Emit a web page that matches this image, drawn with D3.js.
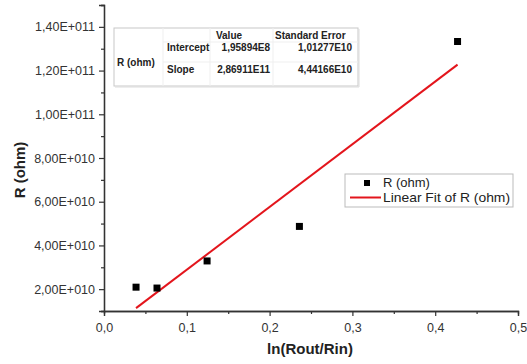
<!DOCTYPE html>
<html>
<head>
<meta charset="utf-8">
<script src="https://cdn.jsdelivr.net/npm/d3@7"></script>
<style>
  body { margin: 0; background: #fff; }
  text { font-family: Arial, "Liberation Sans", sans-serif; }
</style>
</head>
<body>
<svg id="chart"></svg>
<script>
// data
const xValues = [0.0387, 0.064, 0.1245, 0.236, 0.427];
const yValues = [2.09e10, 2.05e10, 3.29e10, 4.87e10, 1.333e11];
const fitIntercept = 1.95894e8;
const fitSlope = 2.86911e11;
const xTicks = [0, 0.1, 0.2, 0.3, 0.4, 0.5];
const yTicks = [2e10, 4e10, 6e10, 8e10, 1e11, 1.2e11, 1.4e11];
const tableHeader = ['', '', 'Value', 'Standard Error'];
const tableRows = [
  ['R (ohm)', 'Intercept', '1,95894E8', '1,01277E10'],
  ['', 'Slope', '2,86911E11', '4,44166E10']
];
const legendLabels = ['R (ohm)', 'Linear Fit of R (ohm)'];

const width = 527, height = 364;
const svg = d3.select('#chart').attr('width', width).attr('height', height);

const x = d3.scaleLinear().domain([0, 0.5]).range([104, 518]);
const y = d3.scaleLinear().domain([1e10, 1.5e11]).range([311, 5]);

const fmtY = d => d3.format('.2e')(d).replace('.', ',').replace(/e\+(\d+)/, (m, p) => 'E+' + p.padStart(3, '0'));
const fmtX = d => d3.format('.1f')(d).replace('.', ',');

// axes
const xAxis = svg.append('g').attr('transform', `translate(0,${y.range()[0]})`);
xAxis.call(d3.axisBottom(x).tickValues(d3.range(0.05, 0.5, 0.1)).tickSize(3).tickFormat(''));
xAxis.call(g => g.append('g').call(d3.axisBottom(x).tickValues(xTicks).tickSize(5).tickFormat(fmtX)));

const yAxis = svg.append('g').attr('transform', `translate(${x.range()[0]},0)`);
yAxis.call(d3.axisLeft(y).tickValues(d3.range(1e10, 1.51e11, 2e10)).tickSize(3).tickFormat(''));
yAxis.call(g => g.append('g').call(d3.axisLeft(y).tickValues(yTicks).tickSize(5).tickFormat(fmtY)));

svg.selectAll('.domain').attr('stroke', '#333').attr('stroke-width', 1.3);
svg.selectAll('.tick line').attr('stroke', '#333').attr('stroke-width', 1.2);
svg.selectAll('.tick text').attr('fill', '#333').style('font-size', '12.5px');
xAxis.selectAll('.tick text').attr('dy', '1.05em');
yAxis.selectAll('.tick text').attr('dx', '-1px');

// axis titles
svg.append('text')
  .attr('x', 310).attr('y', 354)
  .attr('text-anchor', 'middle')
  .style('font-size', '15px').style('font-weight', 'bold').attr('fill', '#222')
  .text('ln(Rout/Rin)');
svg.append('text')
  .attr('transform', 'translate(25,170) rotate(-90)')
  .attr('text-anchor', 'middle')
  .style('font-size', '15px').style('font-weight', 'bold').attr('fill', '#222')
  .text('R (ohm)');

// fit line
const xExt = d3.extent(xValues);
const line = d3.line().x(d => x(d)).y(d => y(fitIntercept + fitSlope * d));
svg.append('path')
  .datum(xExt)
  .attr('d', line)
  .attr('fill', 'none')
  .attr('stroke', '#e3151c')
  .attr('stroke-width', 2);

// points
svg.append('g').selectAll('rect')
  .data(xValues)
  .enter().append('rect')
  .attr('x', (d, i) => x(d) - 3.5)
  .attr('y', (d, i) => y(yValues[i]) - 3.5)
  .attr('width', 7).attr('height', 7)
  .attr('fill', '#000');

// inset table
const tbl = svg.append('g');
tbl.append('rect')
  .attr('x', 114).attr('y', 28).attr('width', 244).attr('height', 58)
  .attr('fill', '#fff').attr('stroke', '#c8c8c8').attr('stroke-width', 1);
tbl.append('line').attr('x1', 115).attr('x2', 359).attr('y1', 87).attr('y2', 87).attr('stroke', '#dcdcdc');
tbl.append('line').attr('x1', 359).attr('x2', 359).attr('y1', 29).attr('y2', 87).attr('stroke', '#dcdcdc');
[[163, 163, 28, 86], [210, 210, 28, 86], [273, 273, 28, 86], [163, 358, 42, 42], [163, 358, 62, 62]].forEach(l => {
  tbl.append('line')
    .attr('x1', l[0]).attr('x2', l[1]).attr('y1', l[2]).attr('y2', l[3])
    .attr('stroke', '#efefef');
});
const cellStyle = t => t.style('font-size', '10px').style('font-weight', 'bold').attr('fill', '#222');
tbl.append('text').attr('x', 229).attr('y', 38.5).attr('text-anchor', 'middle')
  .call(cellStyle).text(tableHeader[2]);
tbl.append('text').attr('x', 275).attr('y', 38.5)
  .call(cellStyle).text(tableHeader[3]);
const rowY = [50.5, 72.5];
const colX = [117, 167, 270, 352];
const colAnchor = ['start', 'start', 'end', 'end'];
tableRows.forEach((row, r) => {
  row.forEach((cell, c) => {
    if (!cell) return;
    tbl.append('text')
      .attr('x', colX[c]).attr('y', c === 0 ? 65.5 : rowY[r])
      .attr('text-anchor', colAnchor[c])
      .call(cellStyle)
      .text(cell);
  });
});

// legend
const lg = svg.append('g');
lg.append('rect')
  .attr('x', 345).attr('y', 174).attr('width', 168).attr('height', 33)
  .attr('fill', '#fff').attr('stroke', '#bbb');
lg.append('rect').attr('x', 364).attr('y', 180).attr('width', 6).attr('height', 6).attr('fill', '#000');
lg.append('line').attr('x1', 350).attr('x2', 381).attr('y1', 197.5).attr('y2', 197.5)
  .attr('stroke', '#e3151c').attr('stroke-width', 2);
legendLabels.forEach((t, i) => {
  const txt = lg.append('text')
    .attr('x', 383).attr('y', 187 + i * 15)
    .style('font-size', '13px').attr('fill', '#222')
    .text(t);
  if (i === 1) txt.attr('textLength', 127).attr('lengthAdjust', 'spacingAndGlyphs');
});
</script>
</body>
</html>
